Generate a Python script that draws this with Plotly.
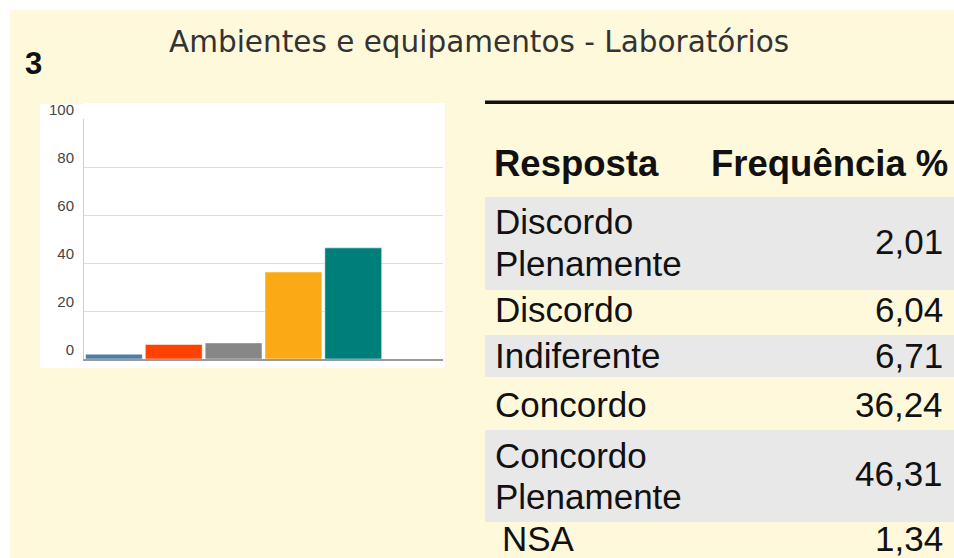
import plotly.graph_objects as go

W, H = 954, 558

title_text = "Ambientes e equipamentos - Laboratórios"
question_number = "3"
response_lines = [["Discordo", "Plenamente"], ["Discordo"], ["Indiferente"], ["Concordo"],
                  ["Concordo", "Plenamente"], ["NSA"]]
categories = ["Discordo Plenamente", "Discordo", "Indiferente", "Concordo",
              "Concordo Plenamente", "NSA"]
frequencies = [2.01, 6.04, 6.71, 36.24, 46.31, 1.34]
chart_values = frequencies[:5]
bar_colors = ["#4F7DA8", "#FF4200", "#878787", "#FBA914", "#007F7A"]
y_ticks = [0, 20, 40, 60, 80, 100]
header = ["Resposta", "Frequência %"]

CREAM = "#FFF9DC"
GRAY_ROW = "#E8E8E8"


def px(x):
    return x / W


def py(y):
    return 1 - y / H


fig = go.Figure()
fig.add_trace(go.Bar(
    x=categories[:5], y=chart_values,
    marker=dict(color=bar_colors, line=dict(color="white", width=0.5)),
    hoverinfo="skip", showlegend=False,
))

shapes = []
shapes.append(dict(type="rect", xref="paper", yref="paper", x0=px(10), x1=1,
                   y0=0, y1=py(10), fillcolor=CREAM, line=dict(width=0), layer="below"))
shapes.append(dict(type="rect", xref="paper", yref="paper", x0=px(40), x1=px(445),
                   y0=py(368), y1=py(103), fillcolor="white", line=dict(width=0), layer="below"))
shapes.append(dict(type="rect", xref="paper", yref="paper", x0=px(40), x1=px(84),
                   y0=py(104), y1=py(90), fillcolor=CREAM, line=dict(width=0), layer="above"))

row_bounds = [(197, 290), (290, 335), (335, 377), (377, 430), (430, 522), (522, 558)]
for i, (a, b) in enumerate(row_bounds):
    if i % 2 == 0:
        shapes.append(dict(type="rect", xref="paper", yref="paper", x0=px(485), x1=1,
                           y0=py(b), y1=py(a), fillcolor=GRAY_ROW, line=dict(width=0), layer="below"))
shapes.append(dict(type="rect", xref="paper", yref="paper", x0=px(485), x1=1,
                   y0=py(104), y1=py(100.5), fillcolor="#111111", line=dict(width=0), layer="below"))

annotations = []
annotations.append(dict(text=title_text, xref="paper", yref="paper", x=px(479), y=py(42),
                        xanchor="center", yanchor="middle", showarrow=False,
                        font=dict(family="DejaVu Sans", size=29.5, color="#333333")))
annotations.append(dict(text="<b>" + question_number + "</b>", xref="paper", yref="paper",
                        x=px(23), y=py(63), xanchor="left", yanchor="middle", showarrow=False,
                        font=dict(family="Liberation Sans", size=31, color="#111111")))
annotations.append(dict(text="<b>" + header[0] + "</b>", xref="paper", yref="paper",
                        x=px(492), y=py(163), xanchor="left", yanchor="middle", showarrow=False,
                        font=dict(family="Liberation Sans", size=36.5, color="#111111")))
annotations.append(dict(text="<b>" + header[1] + "</b>", xref="paper", yref="paper",
                        x=px(950), y=py(163), xanchor="right", yanchor="middle", showarrow=False,
                        font=dict(family="Liberation Sans", size=36.5, color="#111111")))

line_centers = [[221, 263], [309], [355], [404], [455, 496], [538]]
value_centers = [241, 309, 355, 404, 473, 538]
left_x = [493, 493, 493, 493, 493, 500]
body_font = dict(family="Liberation Sans", size=35, color="#111111")
for i, (lines, val) in enumerate(zip(response_lines, frequencies)):
    for txt, yc in zip(lines, line_centers[i]):
        annotations.append(dict(text=txt, xref="paper", yref="paper", x=px(left_x[i]), y=py(yc),
                                xanchor="left", yanchor="middle", showarrow=False, font=body_font))
    annotations.append(dict(text=f"{val:.2f}".replace(".", ","), xref="paper", yref="paper",
                            x=px(945), y=py(value_centers[i]),
                            xanchor="right", yanchor="middle", showarrow=False, font=body_font))

fig.update_layout(
    width=W, height=H, autosize=False,
    margin=dict(l=0, r=0, t=0, b=0, pad=0, autoexpand=False),
    paper_bgcolor="white", plot_bgcolor="white",
    shapes=shapes, annotations=annotations,
    bargap=0.05,
    xaxis=dict(domain=[px(84), px(443)], type="category", categoryorder="array",
               categoryarray=categories, range=[-0.5, 5.5], showticklabels=False,
               showgrid=False, zeroline=False, showline=True, linecolor="#9A9A9A",
               linewidth=1.5, ticks="", fixedrange=True, automargin=False),
    yaxis=dict(domain=[py(359), py(119)], range=[0, 100], tickvals=y_ticks,
               showgrid=True, gridcolor="#DDDDDD", gridwidth=1, zeroline=False,
               showline=True, linecolor="#CCCCCC", linewidth=1, ticks="",
               ticklabelstandoff=6, ticklabelshift=-9, automargin=False,
               tickfont=dict(family="Liberation Sans", size=15, color="#444444"),
               fixedrange=True),
)

post = ("document.documentElement.style.margin='0';document.body.style.margin='0';"
        "document.body.style.padding='0';document.body.style.overflow='hidden';"
        "var d=document.getElementsByClassName('plotly-graph-div')[0];"
        "d.style.position='fixed';d.style.top='0px';d.style.left='0px';")
fig.write_html("out.html", config={"displayModeBar": False}, post_script=post)
